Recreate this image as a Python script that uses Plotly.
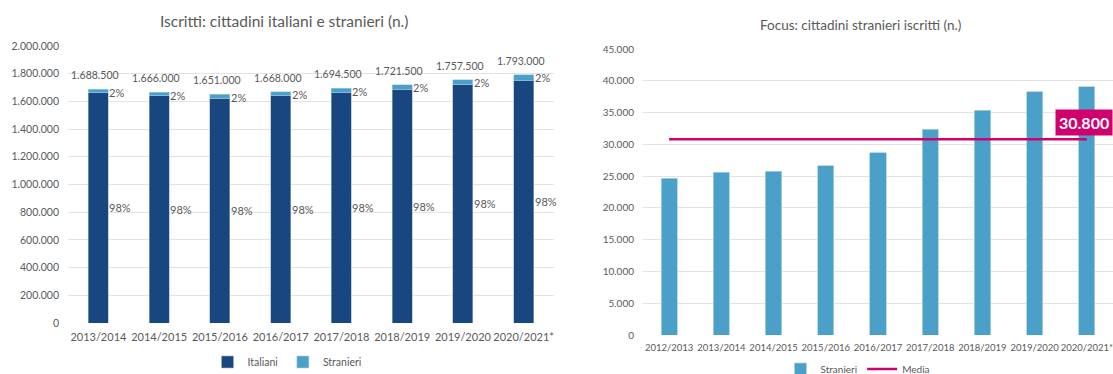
import plotly.graph_objects as go

# ---- data ----
anni_sx = ["2013/2014", "2014/2015", "2015/2016", "2016/2017",
           "2017/2018", "2018/2019", "2019/2020", "2020/2021*"]
totali = [1688500, 1666000, 1651000, 1668000, 1694500, 1721500, 1757500, 1793000]
italiani = [1662900, 1640200, 1624400, 1639300, 1662100, 1686100, 1719200, 1753900]
stranieri_sx = [25600, 25800, 26600, 28700, 32400, 35400, 38300, 39100]
pct_italiani = ["98%", "98%", "98%", "98%", "98%", "98%", "98%", "98%"]
pct_stranieri = ["2%", "2%", "2%", "2%", "2%", "2%", "2%", "2%"]

anni_dx = ["2012/2013", "2013/2014", "2014/2015", "2015/2016", "2016/2017",
           "2017/2018", "2018/2019", "2019/2020", "2020/2021*"]
stranieri_dx = [24700, 25600, 25800, 26600, 28700, 32400, 35400, 38300, 39100]
media = 30800

DARK = "#17477e"
LIGHT = "#4ba0ca"
MAGENTA = "#d1006f"
GREY = "#595959"
GRID = "#e3e3e3"
FONT = "Lato"

fig = go.Figure()

# --- left: stacked bars ---
fig.add_trace(go.Bar(
    x=anni_sx, y=italiani, name="Italiani", marker_color=DARK,
    marker_line=dict(color="#9fb3cc", width=0.6), width=0.33,
    xaxis="x", yaxis="y", legend="legend"
))
fig.add_trace(go.Bar(
    x=anni_sx, y=stranieri_sx, name="Stranieri", marker_color=LIGHT,
    marker_line=dict(color="#a9d1e6", width=0.6), width=0.33,
    xaxis="x", yaxis="y", legend="legend"
))

# --- right: stranieri + media ---
fig.add_trace(go.Bar(
    x=anni_dx, y=stranieri_dx, name="Stranieri", marker_color=LIGHT,
    marker_line=dict(color="#a9d1e6", width=0.8), width=0.31,
    xaxis="x2", yaxis="y2", legend="legend2"
))
fig.add_trace(go.Scatter(
    x=anni_dx, y=[media] * len(anni_dx), name="Media", mode="lines",
    line=dict(color=MAGENTA, width=2.5),
    xaxis="x2", yaxis="y2", legend="legend2"
))

annotations = []
for cat, tot, it, ps, pi in zip(anni_sx, totali, italiani, pct_stranieri, pct_italiani):
    annotations.append(dict(
        x=cat, y=tot, xref="x", yref="y", text=f"{tot:,}".replace(",", "."),
        showarrow=False, yshift=14, xshift=-3,
        font=dict(family=FONT, size=10.5, color=GREY)
    ))
    annotations.append(dict(
        x=cat, y=tot, xref="x", yref="y", text=ps, xanchor="left",
        showarrow=False, yshift=-3, xshift=9,
        font=dict(family=FONT, size=11, color=GREY)
    ))
    annotations.append(dict(
        x=cat, y=it / 2, xref="x", yref="y", text=pi, xanchor="left",
        showarrow=False, xshift=9,
        font=dict(family=FONT, size=11, color=GREY)
    ))

# media label box
annotations.append(dict(
    x=anni_dx[-1], y=media, xref="x2", yref="y2", text="<b>30.800</b>",
    showarrow=False, xanchor="right", xshift=26, yshift=17,
    bgcolor=MAGENTA, borderpad=3,
    font=dict(family=FONT, size=16, color="white")
))

# titles
annotations.append(dict(
    x=284 / 1113, y=1 - 21 / 374, xref="paper", yref="paper",
    xanchor="center", yanchor="middle",
    text="Iscritti: cittadini italiani e stranieri (n.)", showarrow=False,
    font=dict(family=FONT, size=15.5, color=GREY)
))
annotations.append(dict(
    x=860 / 1113, y=1 - 25 / 374, xref="paper", yref="paper",
    xanchor="center", yanchor="middle",
    text="Focus: cittadini stranieri iscritti (n.)", showarrow=False,
    font=dict(family=FONT, size=13.5, color=GREY)
))

axis_common = dict(showline=False, zeroline=False, ticks="", automargin=False,
                   tickfont=dict(family=FONT, color=GREY))

fig.update_layout(
    width=1113, height=374,
    # legends sit at the very bottom; don't let them push the margins
    margin=dict(l=0, r=0, t=0, b=0, autoexpand=False),
    plot_bgcolor="white", paper_bgcolor="white",
    separators=",.",
    barmode="stack",
    font=dict(family=FONT, color=GREY),
    annotations=annotations,
    xaxis=dict(domain=[68 / 1113, 554 / 1113], range=[-0.5, 7.5],
               showgrid=False, anchor="y", tickangle=0,
               ticklabelstandoff=6, **axis_common),
    yaxis=dict(domain=[(374 - 323) / 374, (374 - 46) / 374], range=[0, 2000000],
               dtick=200000, tickformat=",d", gridcolor=GRID, gridwidth=1,
               anchor="x", ticklabelstandoff=8, **axis_common),
    xaxis2=dict(domain=[643 / 1113, 1.0], range=[-0.5, 8.5],
                showgrid=False, anchor="y2", tickangle=0,
                ticklabelstandoff=5, **axis_common),
    yaxis2=dict(domain=[(374 - 335) / 374, (374 - 49) / 374], range=[0, 45000],
                dtick=5000, tickformat=",d", gridcolor=GRID, gridwidth=1,
                anchor="x2", ticklabelstandoff=8, **axis_common),
    legend=dict(orientation="h", x=287 / 1113, xanchor="center",
                y=(374 - 362) / 374, yanchor="middle",
                font=dict(family=FONT, size=10.5, color=GREY),
                itemwidth=30, traceorder="normal"),
    legend2=dict(orientation="h", x=858 / 1113, xanchor="center",
                 y=(374 - 369) / 374, yanchor="middle",
                 font=dict(family=FONT, size=10, color=GREY),
                 itemwidth=30, traceorder="normal"),
)

fig.update_xaxes(tickfont_size=11, selector=dict(anchor="y"))
fig.update_xaxes(tickfont_size=9.5, selector=dict(anchor="y2"))
fig.update_yaxes(tickfont_size=10.5, selector=dict(anchor="x"))
fig.update_yaxes(tickfont_size=10, selector=dict(anchor="x2"))

# the page's default body margin would push the figure off the window
fix_page = (
    "document.body.style.margin='0';"
    "document.body.style.overflow='hidden';"
)
fig.write_html("out.html", post_script=fix_page,
               config={"displayModeBar": False})
